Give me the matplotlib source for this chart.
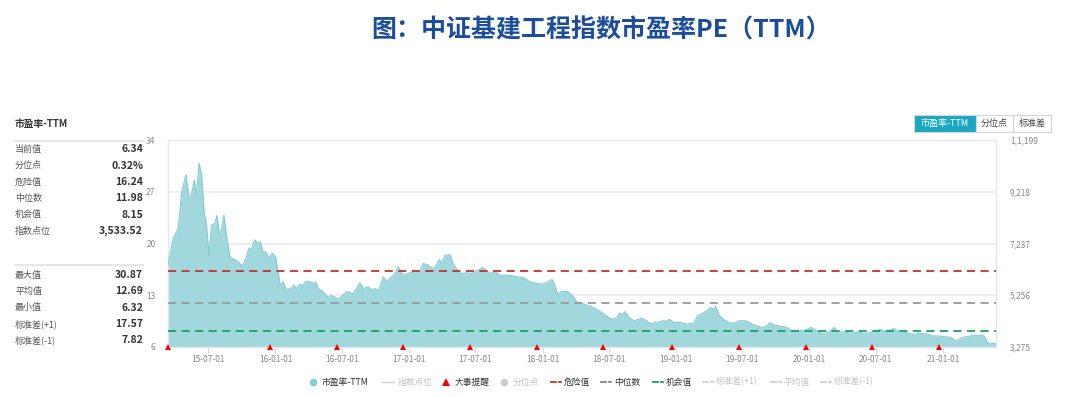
import pandas as pd
import matplotlib
matplotlib.use("Agg")
import matplotlib.pyplot as plt
from matplotlib.patches import Rectangle

plt.rcParams['font.family'] = ['Noto Sans CJK SC', 'DejaVu Sans']

# PE-TTM series
dates = ['2015-03-13', '2015-03-27', '2015-04-10', '2015-04-19', '2015-05-01', '2015-05-10',
         '2015-05-16', '2015-05-24', '2015-05-30', '2015-06-06', '2015-06-13', '2015-06-20',
         '2015-06-26', '2015-07-03', '2015-07-10', '2015-07-19', '2015-07-25', '2015-07-31',
         '2015-08-06', '2015-08-13', '2015-08-20', '2015-08-30', '2015-09-12', '2015-09-26',
         '2015-10-03', '2015-10-12', '2015-10-21', '2015-10-27', '2015-11-05', '2015-11-14',
         '2015-11-21', '2015-11-28', '2015-12-05', '2015-12-14', '2015-12-24', '2016-01-02',
         '2016-01-08', '2016-01-14', '2016-01-22', '2016-01-31', '2016-02-14', '2016-02-21',
         '2016-02-27', '2016-03-08', '2016-03-15', '2016-03-24', '2016-04-04', '2016-04-13',
         '2016-04-20', '2016-04-27', '2016-05-10', '2016-05-24', '2016-06-02', '2016-06-21',
         '2016-07-14', '2016-08-01', '2016-08-19', '2016-08-29', '2016-09-11', '2016-09-21',
         '2016-09-30', '2016-10-09', '2016-10-22', '2016-11-01', '2016-11-14', '2016-11-23',
         '2016-12-02', '2016-12-16', '2017-01-03', '2017-01-22', '2017-01-31', '2017-02-09',
         '2017-02-22', '2017-03-04', '2017-03-13', '2017-03-25', '2017-03-31', '2017-04-09',
         '2017-04-23', '2017-05-01', '2017-05-10', '2017-05-23', '2017-06-07', '2017-06-21',
         '2017-07-05', '2017-07-21', '2017-08-01', '2017-08-10', '2017-08-24', '2017-09-07',
         '2017-09-17', '2017-10-05', '2017-10-23', '2017-11-10', '2017-11-28', '2017-12-17',
         '2017-12-31', '2018-01-13', '2018-01-27', '2018-02-02', '2018-02-11', '2018-02-23',
         '2018-03-11', '2018-03-23', '2018-04-05', '2018-04-24', '2018-05-12', '2018-05-26',
         '2018-06-08', '2018-06-22', '2018-07-10', '2018-07-24', '2018-07-31', '2018-08-06',
         '2018-08-14', '2018-08-25', '2018-09-09', '2018-09-21', '2018-09-30', '2018-10-12',
         '2018-10-25', '2018-11-06', '2018-11-15', '2018-11-24', '2018-12-08', '2018-12-13',
         '2018-12-27', '2019-01-14', '2019-02-01', '2019-02-20', '2019-03-01', '2019-03-14',
         '2019-03-24', '2019-04-06', '2019-04-13', '2019-04-20', '2019-04-29', '2019-05-13',
         '2019-05-26', '2019-06-09', '2019-06-23', '2019-07-11', '2019-07-29', '2019-08-21',
         '2019-09-04', '2019-09-15', '2019-09-26', '2019-10-10', '2019-10-24', '2019-11-06',
         '2019-11-20', '2019-12-04', '2019-12-22', '2020-01-05', '2020-01-18', '2020-02-01',
         '2020-02-10', '2020-02-24', '2020-03-09', '2020-03-19', '2020-04-06', '2020-04-24',
         '2020-05-13', '2020-05-31', '2020-06-18', '2020-07-13', '2020-07-29', '2020-08-19',
         '2020-09-03', '2020-09-22', '2020-10-10', '2020-10-28', '2020-11-20', '2020-12-03',
         '2020-12-17', '2021-01-04', '2021-01-23', '2021-02-05', '2021-02-24', '2021-03-18',
         '2021-04-10', '2021-04-24', '2021-05-03', '2021-05-21', '2021-05-26']
pe = [17.1, 20.7, 22.05, 26.8, 29.3, 26.1,
      26.6, 28.6, 26.6, 30.87, 29.3, 24.1,
      22.7, 18.4, 22.5, 22.7, 23.8, 21.4,
      21.8, 23.85, 21.1, 18.1, 17.8, 17.3,
      16.9, 18.0, 19.4, 19.1, 20.5, 20.0,
      20.2, 18.8, 18.9, 18.1, 18.7, 18.1,
      16.2, 14.4, 14.8, 13.7, 14.0, 14.4,
      13.9, 14.5, 14.3, 14.9, 14.8, 14.6,
      14.8, 13.9, 13.5, 12.7, 13.0, 12.45,
      13.5, 13.2, 14.7, 13.9, 14.15, 13.7,
      13.9, 13.6, 15.5, 14.8, 15.5, 15.95,
      16.85, 15.7, 16.05, 16.2, 16.4, 17.3,
      17.1, 16.6, 16.85, 17.85, 17.3, 18.4,
      18.5, 17.3, 16.6, 15.9, 16.05, 15.95,
      16.3, 16.75, 16.3, 15.95, 16.2, 15.7,
      15.7, 15.7, 15.5, 15.4, 14.8, 14.6,
      14.5, 14.75, 15.15, 14.6, 13.2, 13.5,
      13.5, 13.0, 12.1, 11.8, 11.5, 11.2,
      10.8, 10.3, 9.75, 10.0, 10.6, 10.3,
      10.8, 10.0, 9.55, 9.75, 9.9, 9.55,
      9.1, 9.4, 9.3, 9.55, 9.5, 9.75,
      9.3, 9.3, 9.1, 9.3, 10.2, 10.55,
      10.8, 11.35, 11.1, 11.45, 10.3, 9.65,
      9.3, 9.2, 9.55, 9.55, 9.1, 8.65,
      8.75, 9.3, 9.0, 8.85, 8.75, 8.5,
      8.05, 8.2, 8.3, 8.65, 8.3, 7.95,
      7.75, 8.05, 8.65, 8.05, 8.05, 7.85,
      8.05, 7.85, 7.95, 8.4, 8.05, 8.5,
      8.05, 7.95, 7.7, 7.85, 7.75, 7.5,
      7.5, 7.4, 7.3, 6.8, 7.3, 7.5,
      7.6, 7.5, 6.5, 6.5, 6.34]

event_dates = ['2015-03-13', '2015-12-17', '2016-06-18', '2016-12-16', '2017-06-17', '2017-12-17',
               '2018-06-16', '2018-12-21', '2019-06-23', '2019-12-23', '2020-06-21', '2020-12-21']

danger = 16.24
median = 11.98
chance = 8.15

xtick_dates = ['2015-07-01', '2016-01-01', '2016-07-01', '2017-01-01', '2017-07-01', '2018-01-01',
               '2018-07-01', '2019-01-01', '2019-07-01', '2020-01-01', '2020-07-01', '2021-01-01']
xtick_labels = ['15-07-01', '16-01-01', '16-07-01', '17-01-01', '17-07-01', '18-01-01',
                '18-07-01', '19-01-01', '19-07-01', '20-01-01', '20-07-01', '21-01-01']
left_ticks = [6, 13, 20, 27, 34]
right_ticks = [3275, 5256, 7237, 9218, 11199]
right_labels = ['3,275', '5,256', '7,237', '9,218', '1,1,199']

stat_labels_1 = ['当前值', '分位点', '危险值', '中位数', '机会值', '指数点位']
stat_values_1 = ['6.34', '0.32%', '16.24', '11.98', '8.15', '3,533.52']
stat_labels_2 = ['最大值', '平均值', '最小值', '标准差(+1)', '标准差(-1)']
stat_values_2 = ['30.87', '12.69', '6.32', '17.57', '7.82']

W, H = 1080, 397
fig = plt.figure(figsize=(W / 100, H / 100), dpi=100)

# main chart axes (pixel box 168..996 x 140..347)
ax = fig.add_axes([168 / W, 1 - 347 / H, (996 - 168) / W, (347 - 140) / H])
x = pd.to_datetime(dates)
ax.fill_between(x, 6, pe, color='#a0d8de', lw=0, zorder=2)
ax.plot(x, pe, color='#84ccd5', lw=0.8, zorder=3)
ax.axhline(danger, color='#c9302c', lw=1.3, dashes=(4.5, 3), zorder=4)
ax.axhline(median, color='#9a9a9a', lw=1.3, dashes=(4.5, 3), zorder=4)
ax.axhline(chance, color='#1e9e6a', lw=1.3, dashes=(4.5, 3), zorder=4)
ev = pd.to_datetime(event_dates)
ax.plot(ev, [6] * len(ev), '^', color='#ff0000', ms=5, mew=0, clip_on=False, zorder=6)

ax.set_xlim(pd.Timestamp('2015-03-13'), pd.Timestamp('2021-05-26'))
ax.set_ylim(6, 34)
ax.set_yticks(left_ticks)
ax.set_yticklabels([str(t) for t in left_ticks])
ax.set_xticks(pd.to_datetime(xtick_dates))
ax.set_xticklabels(xtick_labels)
ax.grid(axis='y', color='#ebebeb', lw=1.2, zorder=0)
ax.tick_params(axis='y', length=0, pad=9, labelsize=6, labelcolor='#888888')
ax.tick_params(axis='x', length=4, width=0.8, color='#cfd8ea', pad=2, labelsize=6, labelcolor='#888888')
for s in ['left', 'right', 'top', 'bottom']:
    ax.spines[s].set_color('#e3e7ef')
    ax.spines[s].set_linewidth(1)

ax2 = ax.twinx()
ax2.set_ylim(3275, 11199)
ax2.set_yticks(right_ticks)
ax2.set_yticklabels(right_labels)
ax2.tick_params(axis='y', length=0, pad=10, labelsize=6, labelcolor='#888888')
for s in ['left', 'right', 'top', 'bottom']:
    ax2.spines[s].set_visible(False)

# overlay in pixel coordinates for title, side panel, buttons, legend
ov = fig.add_axes([0, 0, 1, 1], zorder=-1)
ov.set_xlim(0, W)
ov.set_ylim(H, 0)
ov.axis('off')

ov.text(601, 30, '图：中证基建工程指数市盈率PE（TTM）', ha='center', va='center',
        fontsize=18, fontweight='bold', color='#1a4d9c')

ov.text(15, 124, '市盈率-TTM', ha='left', va='center', fontsize=7, fontweight='bold', color='#333333')
ov.plot([15, 143], [141, 141], color='#e6e6e6', lw=1.5)
for i, (lab, val) in enumerate(zip(stat_labels_1, stat_values_1)):
    yy = 149.5 + i * 16.3
    ov.text(15, yy, lab, ha='left', va='center', fontsize=6.5, color='#555555')
    ov.text(143, yy, val, ha='right', va='center', fontsize=7.5, fontweight='bold', color='#333333')
ov.plot([15, 143], [265, 265], color='#e6e6e6', lw=1.5)
for i, (lab, val) in enumerate(zip(stat_labels_2, stat_values_2)):
    yy = 275 + i * 16.3
    ov.text(15, yy, lab, ha='left', va='center', fontsize=6.5, color='#555555')
    ov.text(143, yy, val, ha='right', va='center', fontsize=7.5, fontweight='bold', color='#333333')

# buttons
btns = [(914, 976, '市盈率-TTM', True), (976, 1013, '分位点', False), (1013, 1051, '标准差', False)]
for x0, x1, lab, active in btns:
    ov.add_patch(Rectangle((x0, 115), x1 - x0, 17, facecolor='#1aa7c1' if active else 'white',
                           edgecolor='#d5d5d5', lw=0.8))
    ov.text((x0 + x1) / 2, 123.5, lab, ha='center', va='center', fontsize=6.5,
            color='white' if active else '#444444')

# legend
ly = 382
grey_txt = '#c4c4c4'
ov.plot([313], [ly], 'o', color='#7fd0da', ms=5.5, mew=0)
ov.text(322, ly, '市盈率-TTM', ha='left', va='center', fontsize=6.3, color='#333333')
ov.plot([382, 394], [ly, ly], color='#d0d0d0', lw=1)
ov.text(398, ly, '指数点位', ha='left', va='center', fontsize=6.3, color=grey_txt)
ov.plot([446], [ly], '^', color='#ff0000', ms=5.5, mew=0)
ov.text(455, ly, '大事提醒', ha='left', va='center', fontsize=6.3, color='#333333')
ov.plot([504], [ly], 'o', color='#cccccc', ms=5.5, mew=0)
ov.text(513, ly, '分位点', ha='left', va='center', fontsize=6.3, color=grey_txt)

dash_items = [(551, '危险值', '#c9302c', '#333333'), (601, '中位数', '#888888', '#333333'),
              (653, '机会值', '#1e9e6a', '#333333'), (703, '标准差(+1)', '#d0d0d0', grey_txt),
              (771, '平均值', '#d0d0d0', grey_txt), (821, '标准差(-1)', '#d0d0d0', grey_txt)]
for x0, lab, c, tc in dash_items:
    ov.plot([x0, x0 + 5], [ly, ly], color=c, lw=1.3)
    ov.plot([x0 + 8, x0 + 10], [ly, ly], color=c, lw=1.3)
    ov.text(x0 + 13, ly, lab, ha='left', va='center', fontsize=6.3, color=tc)

fig.savefig('out.png', dpi=100)
